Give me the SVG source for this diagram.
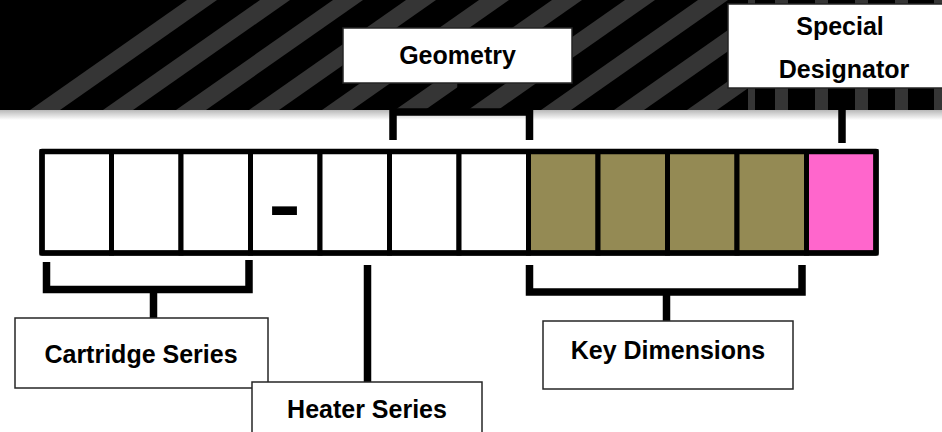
<svg xmlns="http://www.w3.org/2000/svg" width="942" height="432" viewBox="0 0 942 432">
  <defs>
    <linearGradient id="shadow" x1="0" y1="0" x2="0" y2="1">
      <stop offset="0" stop-color="#b8b8b8"/>
      <stop offset="1" stop-color="#ffffff"/>
    </linearGradient>
    <clipPath id="diagClip"><rect x="0" y="0" width="748" height="110"/></clipPath>
    <clipPath id="vertClip"><rect x="748" y="0" width="194" height="110"/></clipPath>
  </defs>
  <style>
    .stripe { fill: #353535; }
    .box { fill: #ffffff; stroke: #262626; stroke-width: 1.5; }
    .lbl { font-family: "Liberation Sans", Arial, sans-serif; font-weight: bold; font-size: 25px; fill: #000; text-anchor: middle; }
    .cell { stroke: #000; stroke-width: 5; }
    .white { fill: #ffffff; }
    .olive { fill: #948a54; }
    .pink { fill: #ff66cc; }
    .conn { fill: none; stroke: #000; stroke-width: 7.5; stroke-linejoin: miter; stroke-linecap: butt; }
  </style>

  <rect x="0" y="0" width="942" height="432" fill="#ffffff"/>

  <g id="banner">
    <rect x="0" y="0" width="942" height="110" fill="#000"/>
    <g clip-path="url(#diagClip)">
      <polygon class="stripe" points="30,110 60,110 217,0 187,0"/>
      <polygon class="stripe" points="103,110 133,110 290,0 260,0"/>
      <polygon class="stripe" points="176,110 206,110 363,0 333,0"/>
      <polygon class="stripe" points="249,110 279,110 436,0 406,0"/>
      <polygon class="stripe" points="322,110 352,110 509,0 479,0"/>
      <polygon class="stripe" points="395,110 425,110 582,0 552,0"/>
      <polygon class="stripe" points="468,110 498,110 655,0 625,0"/>
      <polygon class="stripe" points="541,110 571,110 728,0 698,0"/>
      <polygon class="stripe" points="614,110 644,110 801,0 771,0"/>
      <polygon class="stripe" points="687,110 717,110 874,0 844,0"/>
    </g>
    <g clip-path="url(#vertClip)">
      <rect class="stripe" x="748" y="0" width="7" height="110"/>
      <rect class="stripe" x="775" y="0" width="13" height="110"/>
      <rect class="stripe" x="815" y="0" width="13" height="110"/>
      <rect class="stripe" x="855" y="0" width="13" height="110"/>
      <rect class="stripe" x="895" y="0" width="13" height="110"/>
      <rect class="stripe" x="934" y="0" width="13" height="110"/>
    </g>
    <rect x="0" y="110" width="942" height="10" fill="url(#shadow)"/>
  </g>

  <g id="connectors">
    <!-- Geometry bracket -->
    <line class="conn" x1="461" y1="83" x2="461" y2="112"/>
    <path class="conn" d="M393,140 V112 H529.5 V140"/>
    <!-- Special Designator -->
    <line class="conn" x1="842" y1="88" x2="842" y2="143"/>
    <!-- Cartridge bracket -->
    <path class="conn" d="M46.5,262 V289.5 H249 V260"/>
    <line class="conn" x1="153.5" y1="289" x2="153.5" y2="318"/>
    <!-- Heater stem -->
    <line class="conn" x1="367.5" y1="265" x2="367.5" y2="382"/>
    <!-- Key dimensions bracket -->
    <path class="conn" d="M529.5,265 V292 H802 V265"/>
    <line class="conn" x1="666.5" y1="292" x2="666.5" y2="321"/>
  </g>

  <g id="code-cells">
    <rect class="cell white" x="42" y="151.5" width="69.5" height="101.5"/>
    <rect class="cell white" x="111.5" y="151.5" width="69.5" height="101.5"/>
    <rect class="cell white" x="181" y="151.5" width="69.5" height="101.5"/>
    <rect class="cell white" x="250.5" y="151.5" width="69.5" height="101.5"/>
    <rect class="cell white" x="320" y="151.5" width="69.5" height="101.5"/>
    <rect class="cell white" x="389.5" y="151.5" width="69.5" height="101.5"/>
    <rect class="cell white" x="459" y="151.5" width="69.5" height="101.5"/>
    <rect class="cell olive" x="528.5" y="151.5" width="69.5" height="101.5"/>
    <rect class="cell olive" x="598" y="151.5" width="69.5" height="101.5"/>
    <rect class="cell olive" x="667.5" y="151.5" width="69.5" height="101.5"/>
    <rect class="cell olive" x="737" y="151.5" width="69.5" height="101.5"/>
    <rect class="cell pink" x="806.5" y="151.5" width="69.5" height="101.5"/>
    <rect x="42" y="151.5" width="834" height="101.5" fill="none" stroke="#000" stroke-width="5.5" stroke-linejoin="round"/>
    <text transform="translate(284.5,228.5) scale(1.36,1)" font-family="Liberation Sans, Arial, sans-serif" font-weight="bold" font-size="72" text-anchor="middle" fill="#000">-</text>
  </g>

  <g id="geometry">
    <rect class="box" x="343" y="28" width="229" height="55"/>
    <text class="lbl" x="457.5" y="64">Geometry</text>
  </g>

  <g id="special-designator">
    <rect class="box" x="728" y="4" width="240" height="84"/>
    <text class="lbl" x="840" y="35">Special</text>
    <text class="lbl" x="844" y="78">Designator</text>
  </g>

  <g id="cartridge-series">
    <rect class="box" x="15" y="318" width="253" height="70"/>
    <text class="lbl" x="141" y="363">Cartridge Series</text>
  </g>

  <g id="heater-series">
    <rect class="box" x="252" y="382" width="230" height="60"/>
    <text class="lbl" x="367" y="418">Heater Series</text>
  </g>

  <g id="key-dimensions">
    <rect class="box" x="543" y="321" width="250" height="68"/>
    <text class="lbl" x="668" y="359">Key Dimensions</text>
  </g>
</svg>
